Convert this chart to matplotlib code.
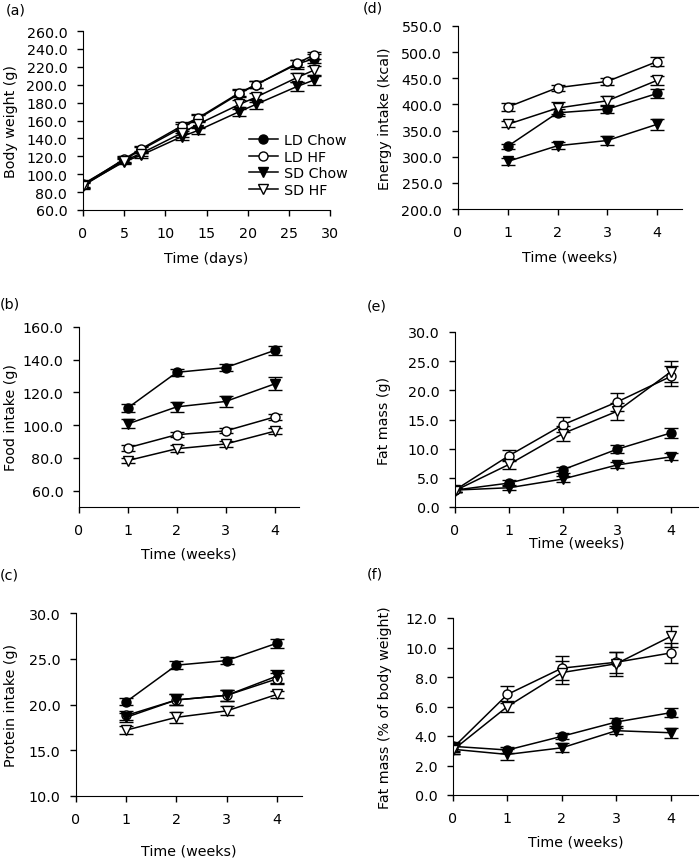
import matplotlib as mpl
import matplotlib.pyplot as plt
from matplotlib.lines import Line2D

mpl.rcParams["font.family"] = ["DejaVu Sans"]
FS = 10.3

groups = ["LD Chow", "LD HF", "SD Chow", "SD HF"]
markers = ["o", "o", "v", "v"]
faces = ["black", "white", "black", "white"]

days = [0, 5, 7, 12, 14, 19, 21, 26, 28]
weeks = [1, 2, 3, 4]
weeks0 = [0, 1, 2, 3, 4]

# (a) body weight (g)
bw = [
    [89, 116, 127, 152, 162, 190, 200, 223, 229],
    [88, 117, 128, 154, 163, 191, 200, 224, 233],
    [88, 114, 121, 142, 149, 170, 178, 198, 205],
    [87, 115, 123, 146, 156, 178, 186, 208, 216],
]
bw_err = [
    [3, 3, 3, 4, 4, 4, 4, 5, 5],
    [3, 3, 3, 4, 4, 4, 4, 4, 4],
    [3, 3, 3, 4, 4, 5, 5, 5, 5],
    [3, 3, 3, 4, 4, 5, 5, 5, 5],
]

# (b) food intake (g)
food = [
    [110.6, 132.3, 135.2, 145.7],
    [86.2, 94.2, 96.5, 105.0],
    [100.8, 111.2, 114.5, 125.2],
    [78.4, 85.6, 88.5, 96.3],
]
food_err = [
    [2.5, 2.0, 2.2, 2.8],
    [1.8, 1.5, 1.5, 2.0],
    [2.8, 3.2, 3.5, 4.0],
    [1.8, 2.2, 2.0, 1.8],
]

# (c) protein intake (g)
protein = [
    [20.3, 24.3, 24.8, 26.7],
    [18.8, 20.5, 21.0, 22.8],
    [18.6, 20.5, 21.0, 23.1],
    [17.2, 18.6, 19.3, 21.1],
]
protein_err = [
    [0.4, 0.4, 0.4, 0.5],
    [0.5, 0.6, 0.6, 0.6],
    [0.5, 0.6, 0.6, 0.7],
    [0.4, 0.6, 0.5, 0.4],
]

# (d) energy intake (kcal)
energy = [
    [320, 384, 391, 421],
    [395, 432, 444, 482],
    [291, 321, 331, 362],
    [362, 393, 407, 446],
]
energy_err = [
    [5, 7, 7, 8],
    [8, 6, 6, 8],
    [6, 7, 8, 10],
    [6, 12, 10, 8],
]

# (e) fat mass (g)
fat = [
    [2.9, 4.1, 6.4, 9.9, 12.7],
    [2.9, 8.8, 14.1, 18.0, 22.4],
    [2.9, 3.3, 4.8, 7.2, 8.6],
    [2.8, 7.3, 12.6, 16.4, 23.2],
]
fat_err = [
    [0.3, 0.5, 0.5, 0.7, 0.8],
    [0.3, 0.9, 1.3, 1.5, 1.7],
    [0.3, 0.4, 0.5, 0.5, 0.6],
    [0.3, 0.7, 1.3, 1.5, 1.8],
]

# (f) fat mass (% of body weight)
fatpct = [
    [3.3, 3.05, 3.98, 4.95, 5.58],
    [3.2, 6.82, 8.6, 9.0, 9.63],
    [3.1, 2.75, 3.2, 4.36, 4.22],
    [3.05, 6.0, 8.3, 8.9, 10.75],
]
fatpct_err = [
    [0.3, 0.2, 0.2, 0.3, 0.3],
    [0.3, 0.6, 0.8, 0.7, 0.7],
    [0.3, 0.35, 0.3, 0.2, 0.35],
    [0.3, 0.4, 0.8, 0.8, 0.7],
]

W, H = 700, 862


def box(left, top, right, bottom):
    return [left / W, 1 - bottom / H, (right - left) / W, (bottom - top) / H]


def draw(ax, x, series, errs, xlim, xticks, ylim, yticks, xlabel, ylabel,
         xpad, ylab_x):
    for i in range(4):
        ax.errorbar(x, series[i], yerr=errs[i], color="black", lw=1.1,
                    marker=markers[i], mfc=faces[i], mec="black", ms=6.5,
                    mew=1.0, capsize=4.7, capthick=1.0, elinewidth=1.0)
    ax.set_xlim(*xlim)
    ax.set_ylim(*ylim)
    ax.set_xticks(xticks)
    ax.set_yticks(yticks)
    ax.set_yticklabels(["%.1f" % v for v in yticks])
    ax.spines["top"].set_visible(False)
    ax.spines["right"].set_visible(False)
    ax.tick_params(direction="out", length=4.3, width=1, pad=7,
                   labelsize=FS)
    ax.set_xlabel(xlabel, fontsize=FS, labelpad=xpad)
    ax.set_ylabel(ylabel, fontsize=FS)
    # ylabel is anchored at its right edge (rotated "bottom")
    pos = ax.get_position()
    ax.yaxis.set_label_coords(ylab_x / W, 0.5 * (pos.y0 + pos.y1),
                              transform=ax.figure.transFigure)
    for s in ax.spines.values():
        s.set_clip_on(False)


fig = plt.figure(figsize=(7, 8.62), dpi=100)

ax_a = fig.add_axes(box(83, 32, 330, 211))
draw(ax_a, days, bw, bw_err, (0, 30), range(0, 31, 5), (60, 260),
     list(range(60, 261, 20)), "Time (days)", "Body weight (g)", 8, 18)
handles = [Line2D([], [], color="black", lw=1.1, marker=markers[i],
                  mfc=faces[i], mec="black", ms=6.5) for i in range(4)]
ax_a.legend(handles, groups, loc="upper left",
            bbox_to_anchor=((249 - 83) / 247, (211 - 134) / 179),
            frameon=False, fontsize=FS, handlelength=2.0,
            handletextpad=0.45, labelspacing=0.18, borderpad=0.0,
            borderaxespad=0.0)

ax_d = fig.add_axes(box(458, 27, 682, 210))
draw(ax_d, weeks, energy, energy_err, (0, 4.5), range(0, 5), (200, 550),
     list(range(200, 551, 50)), "Time (weeks)", "Energy intake (kcal)",
     7.5, 392)

ax_b = fig.add_axes(box(79, 328, 299, 508))
draw(ax_b, weeks, food, food_err, (0, 4.5), range(0, 5), (50, 160),
     list(range(60, 161, 20)), "Time (weeks)", "Food intake (g)", 7, 18)

ax_e = fig.add_axes(box(455, 333, 698, 508))
draw(ax_e, weeks0, fat, fat_err, (0, 4.5), range(0, 5), (0, 30),
     list(range(0, 31, 5)), "Time (weeks)", "Fat mass (g)", -1, 391)

ax_c = fig.add_axes(box(76, 614, 302, 797))
draw(ax_c, weeks, protein, protein_err, (0, 4.5), range(0, 5), (10, 30),
     list(range(10, 31, 5)), "Time (weeks)", "Protein intake (g)", 12.6, 18)

ax_f = fig.add_axes(box(453, 619, 698, 796))
draw(ax_f, weeks0, fatpct, fatpct_err, (0, 4.5), range(0, 5), (0, 12),
     list(range(0, 13, 2)), "Time (weeks)", "Fat mass (% of body weight)",
     7, 392)

letters = [("(a)", 6, 11), ("(d)", 363, 8), ("(b)", 0, 304),
           ("(e)", 367, 307), ("(c)", 0, 576), ("(f)", 367, 574)]
for t, px, py in letters:
    fig.text(px / W, 1 - py / H, t, fontsize=FS, va="center", ha="left")

plt.savefig("out.png", dpi=100)
